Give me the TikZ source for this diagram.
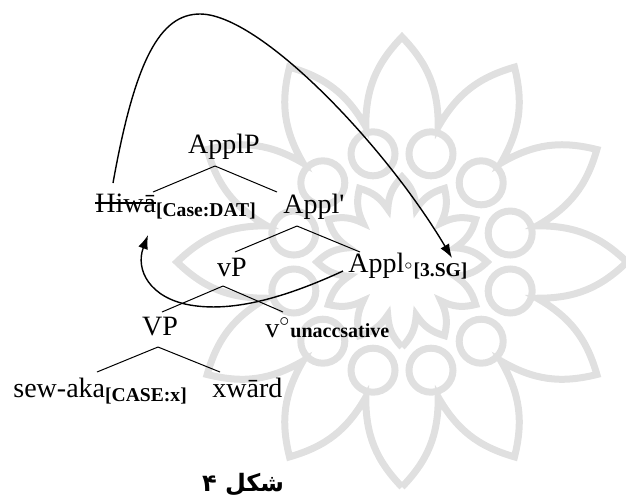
\documentclass[tikz,border=0pt]{standalone}
\usepackage{fontspec}
\setmainfont{Liberation Serif}
\newfontfamily\arabicfont[Script=Arabic]{DejaVu Sans}
\TeXXeTstate=1
\usetikzlibrary{arrows.meta,calc}
\newcommand{\subx}[1]{\textsubscript{\bfseries #1}}
\newcommand{\strk}[1]{\setbox0\hbox{#1}\rlap{\rule[0.3em]{\wd0}{0.6pt}}#1}

\begin{document}
\begin{tikzpicture}[x=0.5pt, y=-0.5pt, >={Latex[length=7pt,width=5pt]},
  lbl/.style={inner sep=0pt, font=\fontsize{14}{16}\selectfont},
  branch/.style={line width=0.5pt},
  move/.style={->, line width=0.7pt},
  wm/.style={draw=black!12, line width=3.5pt}]
\useasboundingbox (0,0) rectangle (626,495);
% watermark
\begin{scope}[shift={(402,262)}]
\draw[wm] (90:225) \foreach \a in {90,120,...,420}{ to[bend left=22] (\a+15:140) to[bend left=22] (\a+30:225)};
\foreach \a in {0,30,...,330} \draw[wm] (\a+15:112) circle[radius=22];
\draw[wm] (90:85) \foreach \a in {90,120,...,420}{ to[bend left=20] (\a+15:55) to[bend left=20] (\a+30:85)};
\end{scope}

\node[lbl, anchor=base] (applP) at (224,153) {ApplP};
\node[lbl, anchor=base west] (hiwa) at (95,212) {\strk{Hiwā}\subx{[Case:DAT]}};
\node[lbl, anchor=base] (applbar) at (314,213) {Appl\textquotesingle};
\node[lbl, anchor=base west] (appl0) at (348,272) {Appl\subx{$^{\circ}$[3.SG]}};
\node[lbl, anchor=base] (vp) at (232,276) {vP};
\node[lbl, anchor=base] (VP) at (160,335) {VP};
\node[lbl, anchor=base west] (v0) at (265,337) {v$^{\circ}${\fontsize{10}{12}\selectfont\bfseries unaccsative}};
\node[lbl, anchor=base west] (sew) at (13,397) {sew-aka\subx{[CASE:x]}};
\node[lbl, anchor=base west] (xward) at (212,397) {xwārd};
\node[inner sep=0pt, anchor=base, font=\arabicfont\bfseries\fontsize{12}{14}\selectfont] (fig) at (243,491) {\beginR شکل ۴\endR};

\draw[branch] ($(applP.base)+(-9,13)$) -- ($(hiwa.base west)+(58,-20)$);
\draw[branch] ($(applP.base)+(-9,13)$) -- ($(applbar.base)+(-37,-21)$);
\draw[branch] ($(applbar.base)+(-17,13)$) -- ($(vp.base)+(3,-24)$);
\draw[branch] ($(applbar.base)+(-17,13)$) -- ($(appl0.base west)+(12,-20)$);
\draw[branch] ($(vp.base)+(-9,10)$) -- ($(VP.base)+(2,-23)$);
\draw[branch] ($(vp.base)+(-9,10)$) -- ($(v0.base west)+(18,-25)$);
\draw[branch] ($(VP.base)+(-2,12)$) -- ($(sew.base west)+(84,-25)$);
\draw[branch] ($(VP.base)+(-2,12)$) -- ($(xward.base west)+(8,-25)$);

\draw[move] ($(hiwa.base west)+(18,-29)$) .. controls (135,60) and (160,14) .. (200,14) .. controls (260,14) and (385,145) .. ($(appl0.base west)+(104,-14)$);
\draw[move] ($(appl0.base west)+(-5,-1)$) .. controls (280,300) and (230,312) .. (190,305) .. controls (150,298) and (135,270) .. ($(hiwa.base west)+(53,23)$);
\end{tikzpicture}
\end{document}
